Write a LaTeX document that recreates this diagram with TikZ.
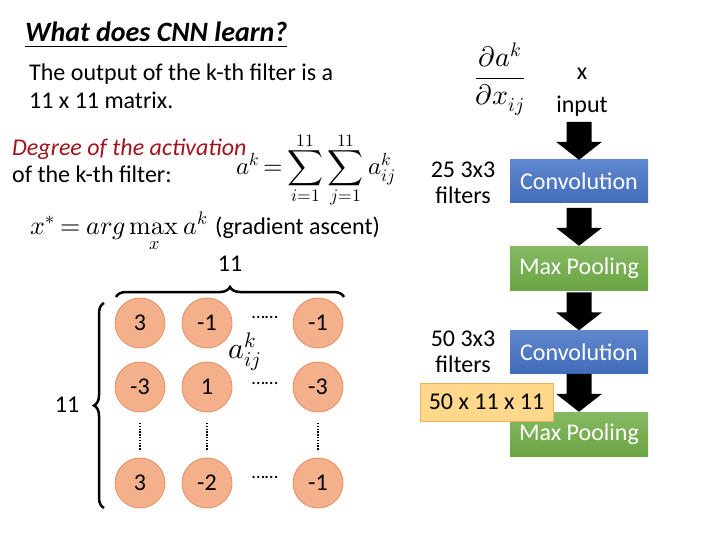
\documentclass[tikz,border=0pt]{standalone}
\usepackage{amsmath}
\usepackage{fontspec}
\usepackage{unicode-math}
\setmainfont{Carlito}
\setmathfont{Latin Modern Math}
\usetikzlibrary{decorations.pathreplacing,calc}
\definecolor{convblue}{HTML}{4472C4}
\definecolor{poolgreen}{HTML}{70AD47}
\definecolor{cellfill}{HTML}{F4B08A}
\definecolor{celledge}{HTML}{E58E66}
\definecolor{degred}{HTML}{A0141E}
\definecolor{yfill}{HTML}{FFD88C}
\definecolor{yedge}{HTML}{F0B060}
\newcommand\blockarr[1]{\fill (#1) -- ++(-23,-18) -- ++(10.5,0) -- ++(0,-20) -- ++(25,0) -- ++(0,20) -- ++(10.5,0) -- cycle;}
\begin{document}
\begin{tikzpicture}[x=1pt,y=-1pt,
  every node/.style={inner sep=0pt},
  txt/.style={font=\fontsize{24}{26}\selectfont},
  cell/.style={circle, minimum size=50pt, fill=cellfill, draw=celledge, line width=0.8pt, font=\fontsize{24}{26}\selectfont},
  convbox/.style={minimum width=138pt, minimum height=43pt, top color=convblue!85!white, bottom color=convblue!95!black, text=white, font=\fontsize{24}{26}\selectfont},
  poolbox/.style={minimum width=138pt, minimum height=44pt, top color=poolgreen!85!white, bottom color=poolgreen!95!black, text=white, font=\fontsize{24}{26}\selectfont},
  brc/.style={decorate, decoration={brace, amplitude=10pt}, line width=2.5pt},
  hdots/.style={font=\fontsize{19}{20}\selectfont},
  vdots/.style={line width=1.6pt, dash pattern=on 1.3pt off 1.5pt}
]
\useasboundingbox (0,0) rectangle (720,540);

% title and text
\node[anchor=base west, font=\fontsize{28}{30}\selectfont\bfseries\itshape] (title) at (25,42) {\underline{What does CNN learn?}};
\node[anchor=base west, txt] (t1) at (29,81) {The output of the k-th filter is a};
\node[anchor=base west, txt] (t2) at (29,109) {11 x 11 matrix.};
\node[anchor=base west, text=degred, font=\fontsize{24}{26}\selectfont\itshape] (d1) at (12,156) {Degree of the activation};
\node[anchor=base west, txt] (d2) at (12,183) {of the k-th filter:};
\node[font=\fontsize{25}{28}\selectfont] (sumf) at (316,170) {$\thickmuskip=3mu\displaystyle a^k=\sum_{i=1}^{11}\sum_{j=1}^{11}a_{ij}^{k}$};
\node[anchor=base west, font=\fontsize{26}{28}\selectfont] (argm) at (30,234) {$\thickmuskip=4mu\displaystyle x^{*}=arg\mathop{\symup{max}}\limits_{x}a^k$};
\node[anchor=base west, txt] (ga) at (215,234) {(gradient ascent)};
\node[anchor=base, txt] (n11top) at (230,271) {11};
\node[txt] (n11left) at (67,405) {11};

% matrix of cells
\node[cell] (c11) at (140,323) {3};
\node[cell] (c12) at (207,323) {-1};
\node[cell] (c13) at (318,323) {-1};
\node[cell] (c21) at (140,387) {-3};
\node[cell] (c22) at (207,387) {1};
\node[cell] (c23) at (318,387) {-3};
\node[cell] (c31) at (140,483) {3};
\node[cell] (c32) at (207,483) {-2};
\node[cell] (c33) at (318,483) {-1};
\node[hdots] (h1) at (265,317) {\dots\dots};
\node[hdots] (h2) at (265,383) {\dots\dots};
\node[hdots] (h3) at (265,477) {\dots\dots};
\draw[vdots] (140,423) -- (140,451);
\draw[vdots] (207,423) -- (207,451);
\draw[vdots] (318,423) -- (318,451);
\node[font=\fontsize{30}{32}\selectfont] (aij) at (245,352) {$a_{ij}^{k}$};

% braces
\draw[brc] (116,297) -- (344,297);
\draw[brc] (104,508) -- (104,303);

% right side
\node[font=\fontsize{28}{30}\selectfont] (frac) at (500,79) {$\displaystyle\frac{\partial a^k}{\partial x_{ij}}$};
\node[txt] (x) at (582,74) {x};
\node[txt] (input) at (582,106) {input};
\node[convbox] (conv1) at (579,181.5) {Convolution};
\node[poolbox] (pool1) at (579,268) {Max Pooling};
\node[convbox] (conv2) at (579,352) {Convolution};
\node[poolbox] (pool2) at (579,434) {Max Pooling};
\node[txt, align=center] (f1) at (463,183) {25 3x3\\filters};
\node[txt, align=center] (f2) at (463,352) {50 3x3\\filters};
\blockarr{conv1.north}
\blockarr{pool1.north}
\blockarr{conv2.north}
\blockarr{pool2.north}
\node[txt, fill=yfill, draw=yedge, line width=0.8pt, minimum width=133pt, minimum height=38pt] (dim) at (486.5,402) {50 x 11 x 11};
\end{tikzpicture}
\end{document}
